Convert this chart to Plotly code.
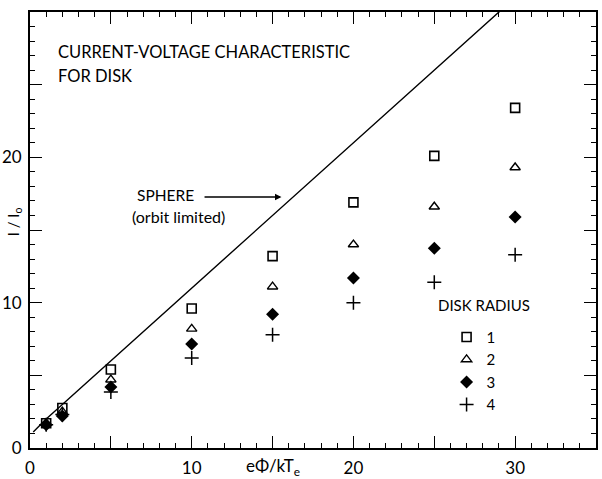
import plotly.graph_objects as go

# ---- data ----
voltage = [1, 2, 5, 10, 15, 20, 25, 30]
radius1 = [1.7, 2.75, 5.4, 9.6, 13.2, 16.9, 20.1, 23.4]
radius2 = [1.7, 2.5, 4.7, 8.2, 11.1, 14.0, 16.6, 19.3]
radius3 = [1.6, 2.2, 4.2, 7.15, 9.2, 11.7, 13.75, 15.9]
radius4 = [1.6, 2.3, 3.85, 6.2, 7.8, 10.0, 11.4, 13.3]
series_names = ["1", "2", "3", "4"]

sphere_x = [0.2, 1, 2, 5, 10, 15, 20, 25, 29.1]
sphere_y = [1.1, 2.0, 3.0, 6.0, 11.0, 16.0, 21.0, 26.0, 30.1]

x_tickvals = [0, 5, 10, 15, 20, 25, 30, 35]
x_ticktext = ["0", "", "10", "", "20", "", "30", ""]
y_tickvals = [0, 5, 10, 15, 20, 25, 30]
y_ticktext = ["0", "", "10", "", "20", "", ""]

FONT = "Lato"
BLACK = "black"

fig = go.Figure()

fig.add_trace(go.Scatter(x=sphere_x, y=sphere_y, mode="lines",
                         line=dict(color=BLACK, width=1.4),
                         showlegend=False, hoverinfo="skip"))

styles = [
    dict(symbol="square-open", size=9, color=BLACK, line=dict(width=1.6, color=BLACK)),
    dict(symbol="triangle-up-open", size=9, color=BLACK, line=dict(width=1.4, color=BLACK)),
    dict(symbol="diamond", size=10, color=BLACK, line=dict(width=0, color=BLACK)),
    dict(symbol="cross-thin-open", size=10, color=BLACK, line=dict(width=1.5, color=BLACK)),
]
for name, ys, st in zip(series_names, [radius1, radius2, radius3, radius4], styles):
    fig.add_trace(go.Scatter(x=voltage, y=ys, mode="markers", name=name, marker=st))

axis_common = dict(
    showgrid=False, zeroline=False, showline=True, linecolor=BLACK, linewidth=1.8,
    mirror="ticks", ticks="inside", ticklen=12, tickwidth=1.4, tickcolor=BLACK,
    tickfont=dict(family=FONT, size=17, color=BLACK), automargin=False,
    minor=dict(ticks="inside", ticklen=5, tickwidth=1.2, tickcolor=BLACK,
               tickmode="linear", tick0=0, dtick=1),
)

fig.update_xaxes(range=[0, 35], tickmode="array", tickvals=x_tickvals,
                 ticktext=x_ticktext, ticklabelstandoff=4, **axis_common)
fig.update_yaxes(range=[0, 30], tickmode="array", tickvals=y_tickvals,
                 ticktext=y_ticktext, ticklabelstandoff=3, **axis_common)

ann_font = dict(family=FONT, size=16.5, color=BLACK)
fig.add_annotation(x=0.046, y=0.908, xref="paper", yref="paper", xanchor="left",
                   yanchor="middle", text="CURRENT-VOLTAGE CHARACTERISTIC",
                   showarrow=False, font=ann_font)
fig.add_annotation(x=0.046, y=0.853, xref="paper", yref="paper", xanchor="left",
                   yanchor="middle", text="FOR DISK", showarrow=False, font=ann_font)
fig.add_annotation(x=0.185, y=0.580, xref="paper", yref="paper", xanchor="left",
                   yanchor="middle", text="SPHERE", showarrow=False,
                   font=dict(family=FONT, size=15.5, color=BLACK))
fig.add_annotation(x=0.176, y=0.530, xref="paper", yref="paper", xanchor="left",
                   yanchor="middle", text="(orbit limited)", showarrow=False,
                   font=dict(family=FONT, size=16, color=BLACK))
# arrow pointing to the sphere curve
fig.add_annotation(x=15.55, y=17.27, ax=10.7, ay=17.27, xref="x", yref="y",
                   axref="x", ayref="y", text="", showarrow=True, arrowhead=2,
                   arrowsize=1, arrowwidth=1.3, arrowcolor=BLACK)
# axis titles
fig.add_annotation(x=15, y=-0.044, xref="x", yref="paper", xanchor="center",
                   yanchor="middle", text="eΦ/kT<sub>e</sub>", showarrow=False,
                   font=dict(family=FONT, size=17, color=BLACK))
fig.add_annotation(x=-0.028, y=0.518, xref="paper", yref="paper", xanchor="center",
                   yanchor="middle", text="I / I<sub>o</sub>", textangle=-90,
                   showarrow=False, font=dict(family=FONT, size=15, color=BLACK))
# legend heading
fig.add_annotation(x=0.718, y=0.328, xref="paper", yref="paper", xanchor="left",
                   yanchor="middle", text="DISK RADIUS", showarrow=False,
                   font=dict(family=FONT, size=15, color=BLACK))

fig.update_layout(
    width=602, height=479,
    margin=dict(l=30, r=6, t=12, b=31),
    paper_bgcolor="white", plot_bgcolor="white",
    font=dict(family=FONT, color=BLACK),
    showlegend=True,
    legend=dict(x=0.736, y=0.292, xanchor="left", yanchor="top",
                bgcolor="rgba(0,0,0,0)", borderwidth=0,
                font=dict(family=FONT, size=15, color=BLACK),
                itemwidth=30, tracegroupgap=0),
)

fig.write_html("out.html")
